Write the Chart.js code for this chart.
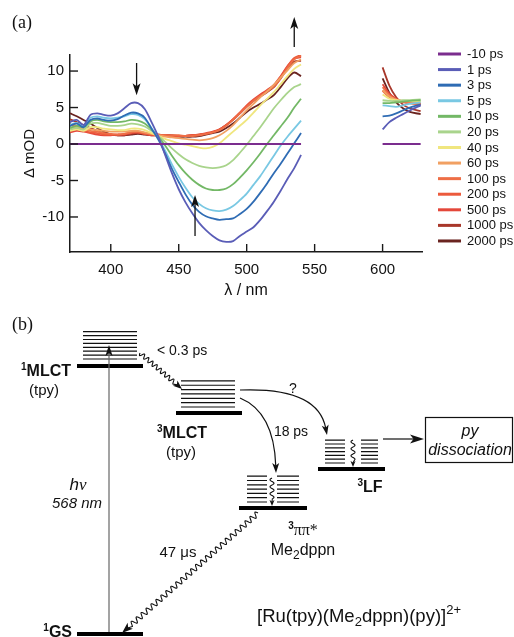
<!DOCTYPE html>
<html><head><meta charset="utf-8">
<script src="https://cdn.jsdelivr.net/npm/chart.js@4/dist/chart.umd.min.js"></script>
<style>
html,body{margin:0;padding:0;background:#fff;}
#wrap{position:relative;width:514px;height:637px;overflow:hidden;background:#fff;}
#ca{position:absolute;left:0;top:0;}
#cb{position:absolute;left:0;top:300px;}
</style></head><body>
<div id="wrap"><canvas id="ca" width="514" height="300"></canvas><canvas id="cb" width="514" height="337"></canvas></div>
<script>
// ---------------- DATA: panel (a) transient absorption ----------------
const wavelengths = [370,375,380,385,390,395,400,405,410,415,420,425,430,435,440,445,450,455,460,465,470,475,480,485,490,495,500,505,510,515,520,525,530,535,540, 570, 600,605,610,615,620,628];
const delayLabels = ['-10 ps','1 ps','3 ps','5 ps','10 ps','20 ps','40 ps','60 ps','100 ps','200 ps','500 ps','1000 ps','2000 ps'];
const xTickValues = [400,450,500,550,600];
const yTickValues = [-10,-5,0,5,10];

const trace_m10ps = [0,0,0,0,0,0,0,0,0,0,0,0,0,0,0,0,0,0,0,0,0,0,0,0,0,0,0,0,0,0,0,0,0,0,0, null, 0,0,0,0,0,0];
const trace_1ps = [3.0,3.3,2.6,4.0,4.2,4.0,3.9,4.2,4.9,5.6,5.6,4.8,3.0,1.0,-1.5,-4.0,-6.2,-8.0,-9.5,-10.8,-11.8,-12.6,-13.2,-13.4,-13.3,-12.6,-12.0,-11.4,-10.4,-9.2,-7.9,-6.4,-4.8,-3.3,-1.5, null, 2.0,3.0,3.6,4.1,4.6,5.3];
const trace_3ps = [2.5,2.8,2.3,3.3,3.5,3.3,3.2,3.4,3.9,4.3,4.2,3.6,2.1,0.6,-1.3,-3.4,-5.2,-6.9,-8.3,-9.3,-9.9,-10.2,-10.4,-10.3,-10.2,-9.6,-8.9,-7.9,-6.7,-5.4,-4.0,-2.7,-1.3,0.1,1.5, null, 3.8,3.9,4.2,4.6,5.0,5.4];
const trace_5ps = [2.6,2.9,2.5,3.6,3.8,3.6,3.5,3.6,3.8,4.1,4.0,3.4,2.2,0.8,-0.9,-2.8,-4.5,-6.0,-7.3,-8.2,-8.8,-9.1,-9.2,-9.0,-8.5,-7.7,-6.8,-5.6,-4.4,-3.0,-1.6,-0.2,1.0,2.1,3.2, null, 5.3,5.2,5.1,5.3,5.5,5.7];
const trace_10ps = [2.2,2.5,2.3,3.1,3.3,3.1,3.0,3.0,3.1,3.3,3.2,2.8,2.0,1.0,-0.2,-1.6,-2.9,-4.0,-4.9,-5.6,-6.1,-6.3,-6.3,-6.1,-5.5,-4.6,-3.6,-2.5,-1.3,0.0,1.2,2.4,3.6,5.0,6.2, null, 5.6,5.6,5.7,5.8,5.9,6.0];
const trace_20ps = [2.0,2.2,2.0,2.8,2.9,2.7,2.5,2.5,2.6,2.8,2.7,2.4,1.8,1.1,0.3,-0.6,-1.4,-2.1,-2.6,-3.0,-3.2,-3.3,-3.2,-2.9,-2.2,-1.2,-0.1,1.1,2.3,3.6,4.9,6.0,7.0,7.8,8.2, null, 6.0,5.9,5.9,6.0,6.0,6.1];
const trace_40ps = [1.8,2.0,1.8,2.3,2.3,2.1,2.0,1.9,1.9,2.1,2.1,1.9,1.5,1.1,0.7,0.4,0.1,-0.1,-0.3,-0.5,-0.6,-0.4,0.1,0.9,1.7,2.5,3.3,4.3,5.3,6.2,7.1,8.2,9.3,10.3,10.9, null, 6.8,6.2,6.0,5.9,5.9,5.8];
const trace_60ps = [2.2,2.4,2.0,2.0,1.9,1.8,1.7,1.7,1.7,1.8,1.8,1.6,1.4,1.2,1.0,0.9,0.8,0.7,0.6,0.5,0.6,0.8,1.2,1.8,2.6,3.6,4.6,5.5,6.4,7.2,8.1,9.1,10.1,11.1,11.6, null, 7.4,6.5,6.1,5.9,5.8,5.7];
const trace_100ps = [2.6,2.5,2.1,1.8,1.7,1.5,1.4,1.3,1.4,1.6,1.7,1.5,1.4,1.3,1.2,1.2,1.2,1.1,1.1,1.2,1.4,1.6,1.9,2.5,3.3,4.2,5.1,5.9,6.6,7.2,7.9,9.0,10.4,11.6,12.1, null, 7.8,6.7,6.1,5.8,5.6,5.4];
const trace_200ps = [2.0,2.2,1.8,1.6,1.5,1.3,1.3,1.3,1.4,1.6,1.6,1.4,1.3,1.3,1.2,1.1,1.1,1.1,1.2,1.3,1.4,1.6,2.0,2.6,3.4,4.3,5.2,6.0,6.6,7.3,8.0,9.2,10.6,11.8,12.2, null, 7.3,6.4,5.9,5.7,5.6,5.5];
const trace_500ps = [1.6,1.8,1.7,1.5,1.3,1.2,1.2,1.3,1.3,1.5,1.6,1.4,1.2,1.2,1.2,1.1,1.1,1.1,1.2,1.3,1.5,1.7,2.0,2.6,3.4,4.3,5.3,6.1,6.8,7.4,8.1,9.3,10.7,11.7,11.9, null, 8.2,6.9,6.2,5.8,5.6,5.5];
const trace_1000ps = [3.4,3.0,2.6,2.2,1.8,1.5,1.3,1.2,1.2,1.4,1.5,1.4,1.3,1.3,1.2,1.2,1.1,1.1,1.2,1.3,1.4,1.6,2.0,2.6,3.3,4.2,5.1,5.9,6.5,7.1,7.8,9.0,10.3,11.3,11.4, null, 10.5,8.0,6.4,5.4,4.9,4.5];
const trace_2000ps = [4.2,3.8,3.3,2.8,2.2,1.7,1.3,1.2,1.2,1.3,1.4,1.3,1.2,1.2,1.2,1.1,1.0,1.0,1.0,1.1,1.3,1.5,1.7,2.2,2.8,3.6,4.4,5.0,5.5,6.1,6.7,7.8,9.0,9.8,9.3, null, 9.0,7.0,5.7,4.9,4.4,4.1];

// arrows marking spectral evolution (wavelength, from value, to value)
const arrowLambda = [419, 462, 535];
const arrowFrom = [11.1, -12.6, 13.3];
const arrowTo = [6.7, -7.0, 17.4];

// ---------------- DATA: panel (b) energy diagram ----------------
const stateNames = ['MLCT','MLCT','LF','ππ*','GS'];
const stateMultiplicity = ['1','3','3','3','1'];
const stateEnergy = [268, 221, 165, 126, 0];     // relative diagram energies
const vibCount = [8, 7, 7, 7, 0];
const processLabels = ['< 0.3 ps', '?', '18 ps', '47 μs'];

// ---------------- STYLE / LAYOUT ----------------
const SANS = "'Liberation Sans', Arial, Helvetica, sans-serif";
const SERIF = "'Liberation Serif', 'Times New Roman', serif";
const seriesColors = ['#7b2d8e','#5a5db7','#2f6cb4','#79c8e3','#73b866','#a9d48c','#f0e67f','#f1a062','#ee6e46','#ec5a3c','#e4473a','#a8372a','#6a2420'];
Chart.defaults.font.family = SANS;
Chart.defaults.color = '#111';

const allTraces = [trace_m10ps,trace_1ps,trace_3ps,trace_5ps,trace_10ps,trace_20ps,trace_40ps,trace_60ps,trace_100ps,trace_200ps,trace_500ps,trace_1000ps,trace_2000ps];

function arrowHead(ctx, tx, ty, ux, uy, len, hw){
  const nx=-uy, ny=ux;
  ctx.beginPath();
  ctx.moveTo(tx,ty);
  ctx.lineTo(tx-ux*len+nx*hw, ty-uy*len+ny*hw);
  ctx.lineTo(tx-ux*len*0.75, ty-uy*len*0.75);
  ctx.lineTo(tx-ux*len-nx*hw, ty-uy*len-ny*hw);
  ctx.closePath();
  ctx.fill();
}
function straightArrow(ctx,x1,y1,x2,y2,len,hw,col,lw,headCol){
  const L=Math.hypot(x2-x1,y2-y1), ux=(x2-x1)/L, uy=(y2-y1)/L;
  ctx.strokeStyle=col; ctx.lineWidth=lw;
  ctx.beginPath(); ctx.moveTo(x1,y1); ctx.lineTo(x2-ux*len*0.7,y2-uy*len*0.7); ctx.stroke();
  ctx.fillStyle=headCol||col; arrowHead(ctx,x2,y2,ux,uy,len,hw);
}
function wavyArrow(ctx,x1,y1,x2,y2,amp,period,len,hw){
  const L=Math.hypot(x2-x1,y2-y1), ux=(x2-x1)/L, uy=(y2-y1)/L, nx=-uy, ny=ux;
  const end=L-len-1;
  ctx.strokeStyle='#111'; ctx.lineWidth=1.1;
  ctx.beginPath();
  for(let s=0;s<=end;s+=0.4){
    const o=amp*Math.sin(2*Math.PI*s/period);
    const px=x1+ux*s+nx*o, py=y1+uy*s+ny*o;
    if(s===0) ctx.moveTo(px,py); else ctx.lineTo(px,py);
  }
  ctx.lineTo(x2-ux*len*0.7,y2-uy*len*0.7);
  ctx.stroke();
  ctx.fillStyle='#111'; arrowHead(ctx,x2,y2,ux,uy,len,hw);
}
function curvedArrow(ctx,x1,y1,cx,cy,x2,y2,len,hw){
  const L=Math.hypot(x2-cx,y2-cy), ux=(x2-cx)/L, uy=(y2-cy)/L;
  ctx.strokeStyle='#111'; ctx.lineWidth=1.2;
  ctx.beginPath(); ctx.moveTo(x1,y1); ctx.quadraticCurveTo(cx,cy,x2-ux*len*0.7,y2-uy*len*0.7); ctx.stroke();
  ctx.fillStyle='#111'; arrowHead(ctx,x2,y2,ux,uy,len,hw);
}
function F(size, weight, style, family){ return `${style||'normal'} ${weight||'normal'} ${size}px ${family||SANS}`; }
function rich(ctx, parts, x, y, align){
  let w=0;
  parts.forEach(p=>{ctx.font=p.f; p.w=ctx.measureText(p.t).width; w+=p.w;});
  let cx = align==='center'? x-w/2 : align==='right'? x-w : x;
  ctx.textAlign='left'; ctx.textBaseline='alphabetic'; ctx.fillStyle='#111';
  parts.forEach(p=>{ctx.font=p.f; ctx.fillText(p.t,cx,y+(p.dy||0)); cx+=p.w;});
}

// ---------------- Panel (a) ----------------
const panelAPlugin = {
  id:'panelA',
  afterDraw(chart){
    const {ctx, chartArea:ca, scales:{x,y}} = chart;
    ctx.save();
    ctx.strokeStyle='#1a1a1a'; ctx.lineWidth=1.4;
    xTickValues.forEach(v=>{const px=x.getPixelForValue(v); ctx.beginPath(); ctx.moveTo(px,ca.bottom); ctx.lineTo(px,ca.bottom-8); ctx.stroke();});
    yTickValues.forEach(v=>{const py=y.getPixelForValue(v); ctx.beginPath(); ctx.moveTo(ca.left,py); ctx.lineTo(ca.left+8,py); ctx.stroke();});
    arrowLambda.forEach((l,i)=>{
      const px=x.getPixelForValue(l);
      straightArrow(ctx,px,y.getPixelForValue(arrowFrom[i]),px,y.getPixelForValue(arrowTo[i]),12,4,'#111',1.3);
    });
    ctx.fillStyle='#111'; ctx.font=F(18,'normal','normal',SERIF); ctx.textAlign='left'; ctx.textBaseline='alphabetic';
    ctx.fillText('(a)',12,28);
    chart.data.datasets.forEach((ds,i)=>{
      const ly=54+i*15.58;
      ctx.strokeStyle=ds.borderColor; ctx.lineWidth=3;
      ctx.beginPath(); ctx.moveTo(438,ly); ctx.lineTo(461,ly); ctx.stroke();
      ctx.fillStyle='#111'; ctx.font=F(13); ctx.textBaseline='middle'; ctx.textAlign='left';
      ctx.fillText(ds.label,467,ly+0.5);
    });
    ctx.restore();
  }
};

new Chart(document.getElementById('ca'), {
  type:'line',
  data:{datasets: allTraces.map((tr,i)=>({
    label: delayLabels[i],
    data: wavelengths.map((w,j)=>({x:w, y:tr[j]})),
    borderColor: seriesColors[i], borderWidth:1.8, pointRadius:0, tension:0.3, spanGaps:false, fill:false
  }))},
  options:{
    responsive:false, animation:false, devicePixelRatio:1,
    layout:{padding:{left:0,right:92,top:55,bottom:0}},
    plugins:{legend:{display:false}, tooltip:{enabled:false}},
    scales:{
      x:{type:'linear', min:370, max:629,
        afterBuildTicks:s=>{s.ticks=xTickValues.map(v=>({value:v}));},
        afterFit:s=>{s.height=48;},
        grid:{drawOnChartArea:false, drawTicks:false},
        border:{display:true,color:'#1a1a1a',width:1.5},
        ticks:{font:{size:15}, color:'#111', padding:9, maxRotation:0, autoSkip:false},
        title:{display:true, text:'λ / nm', font:{size:16}, color:'#111', padding:{top:0,bottom:0}}},
      y:{type:'linear', min:-14.8, max:12.2,
        afterBuildTicks:s=>{s.ticks=yTickValues.map(v=>({value:v}));},
        afterFit:s=>{s.width=70;},
        grid:{drawOnChartArea:false, drawTicks:false},
        border:{display:true,color:'#1a1a1a',width:1.5},
        ticks:{font:{size:15}, color:'#111', padding:6, autoSkip:false},
        title:{display:true, text:'Δ mOD', font:{size:15}, color:'#111', padding:{top:21,bottom:0}}}
    }
  },
  plugins:[panelAPlugin]
});

// ---------------- Panel (b) ----------------
// layout in diagram units: x = horizontal slot units, y = energy units
const levelSpan = [[77,143],[176,242],[318,385],[239,307],[77,143]];
const vibStacks = [[[83,137]],[[181,235]],[[325,345],[361,378]],[[247,267],[277,299]],[]];
const vibOffset = [7,6,6,6,0];
const vibGap = [3.9,4.35,3.8,4.3,0];

const diagramDatasets = [];
stateEnergy.forEach((E,i)=>{
  diagramDatasets.push({data:[{x:levelSpan[i][0],y:E},{x:levelSpan[i][1],y:E}], borderColor:'#000', borderWidth:4, pointRadius:0, borderCapStyle:'butt'});
  const pts=[];
  vibStacks[i].forEach(st=>{
    for(let k=0;k<vibCount[i];k++){
      const e=E+vibOffset[i]+k*vibGap[i];
      pts.push({x:st[0],y:e},{x:st[1],y:e},{x:st[1],y:null});
    }
  });
  if(pts.length) diagramDatasets.push({data:pts, borderColor:'#111', borderWidth:1.2, pointRadius:0, spanGaps:false, borderCapStyle:'butt'});
});

const diagramPlugin = {
  id:'diagram',
  afterDatasetsDraw(chart){
    const {ctx, scales:{x,y}} = chart;
    const X=v=>x.getPixelForValue(v), Y=v=>y.getPixelForValue(v);
    ctx.save();
    // excitation
    straightArrow(ctx,X(109),Y(2),X(109),Y(289),11,3.6,'#666',1.2,'#111');
    // 1MLCT -> 3MLCT
    wavyArrow(ctx,X(140),Y(281),X(182),Y(245),2.2,5.5,9,3.5);
    // ? to 3LF
    curvedArrow(ctx,X(240),Y(244),X(318),Y(247),X(327),Y(199),10,3.5);
    // 18 ps to 3pipi*
    curvedArrow(ctx,X(240),Y(236),X(274),Y(222),X(276),Y(161),10,3.5);
    // 3LF -> dissociation
    straightArrow(ctx,X(383),Y(195),X(424),Y(195),14,4.5,'#111',1.2);
    // 47 us
    wavyArrow(ctx,X(258),Y(121),X(122),Y(1),2.6,6.6,11,4);
    // internal relaxation
    wavyArrow(ctx,X(353),Y(194),X(353),Y(167),2,7,6,2.5);
    wavyArrow(ctx,X(272),Y(156),X(272),Y(128),2,7,6,2.5);
    // box
    ctx.strokeStyle='#111'; ctx.lineWidth=1.2;
    ctx.strokeRect(X(425)+0.5,Y(217)+0.5,X(513)-X(425)-1,Y(172)-Y(217));
    // texts
    const B=16;
    rich(ctx,[{t:'(b)',f:F(18,'normal','normal',SERIF)}],X(12),Y(304),'left');
    rich(ctx,[{t:stateMultiplicity[0],f:F(10,'bold'),dy:-6},{t:stateNames[0],f:F(B,'bold')}],X(71),Y(258),'right');
    rich(ctx,[{t:'(tpy)',f:F(15)}],X(44),Y(239),'center');
    rich(ctx,[{t:processLabels[0],f:F(14)}],X(157),Y(279),'left');
    rich(ctx,[{t:stateMultiplicity[1],f:F(10,'bold'),dy:-6},{t:stateNames[1],f:F(B,'bold')}],X(182),Y(196),'center');
    rich(ctx,[{t:'(tpy)',f:F(15)}],X(181),Y(177),'center');
    rich(ctx,[{t:processLabels[1],f:F(14)}],X(293),Y(241),'center');
    rich(ctx,[{t:processLabels[2],f:F(14)}],X(291),Y(198),'center');
    rich(ctx,[{t:stateMultiplicity[2],f:F(10,'bold'),dy:-6},{t:stateNames[2],f:F(B,'bold')}],X(370),Y(142),'center');
    rich(ctx,[{t:'py',f:F(16,'normal','italic')}],X(470),Y(198),'center');
    rich(ctx,[{t:'dissociation',f:F(16,'normal','italic')}],X(470),Y(179),'center');
    rich(ctx,[{t:'h',f:F(17,'normal','italic')},{t:'ν',f:F(17,'normal','italic',SERIF)}],X(78),Y(144),'center');
    rich(ctx,[{t:'568 nm',f:F(15,'normal','italic')}],X(77),Y(126),'center');
    rich(ctx,[{t:processLabels[3],f:F(15)}],X(178),Y(77),'center');
    rich(ctx,[{t:stateMultiplicity[3],f:F(10,'bold'),dy:-6},{t:stateNames[3],f:F(16,'normal','normal',SERIF)}],X(303),Y(99),'center');
    rich(ctx,[{t:'Me',f:F(16)},{t:'2',f:F(12),dy:4},{t:'dppn',f:F(16)}],X(303),Y(79),'center');
    rich(ctx,[{t:stateMultiplicity[4],f:F(10,'bold'),dy:-6},{t:stateNames[4],f:F(B,'bold')}],X(72),Y(-3),'right');
    rich(ctx,[{t:'[Ru(tpy)(Me',f:F(18.5)},{t:'2',f:F(13),dy:4},{t:'dppn)(py)]',f:F(18.5)},{t:'2+',f:F(13),dy:-8}],X(257),Y(12),'left');
    ctx.restore();
  }
};

new Chart(document.getElementById('cb'), {
  type:'line',
  data:{datasets:diagramDatasets},
  options:{
    responsive:false, animation:false, devicePixelRatio:1,
    layout:{padding:0},
    plugins:{legend:{display:false}, tooltip:{enabled:false}},
    scales:{x:{type:'linear',display:false,min:0,max:514}, y:{type:'linear',display:false,min:-3,max:334}}
  },
  plugins:[diagramPlugin]
});
</script>
</body></html>
